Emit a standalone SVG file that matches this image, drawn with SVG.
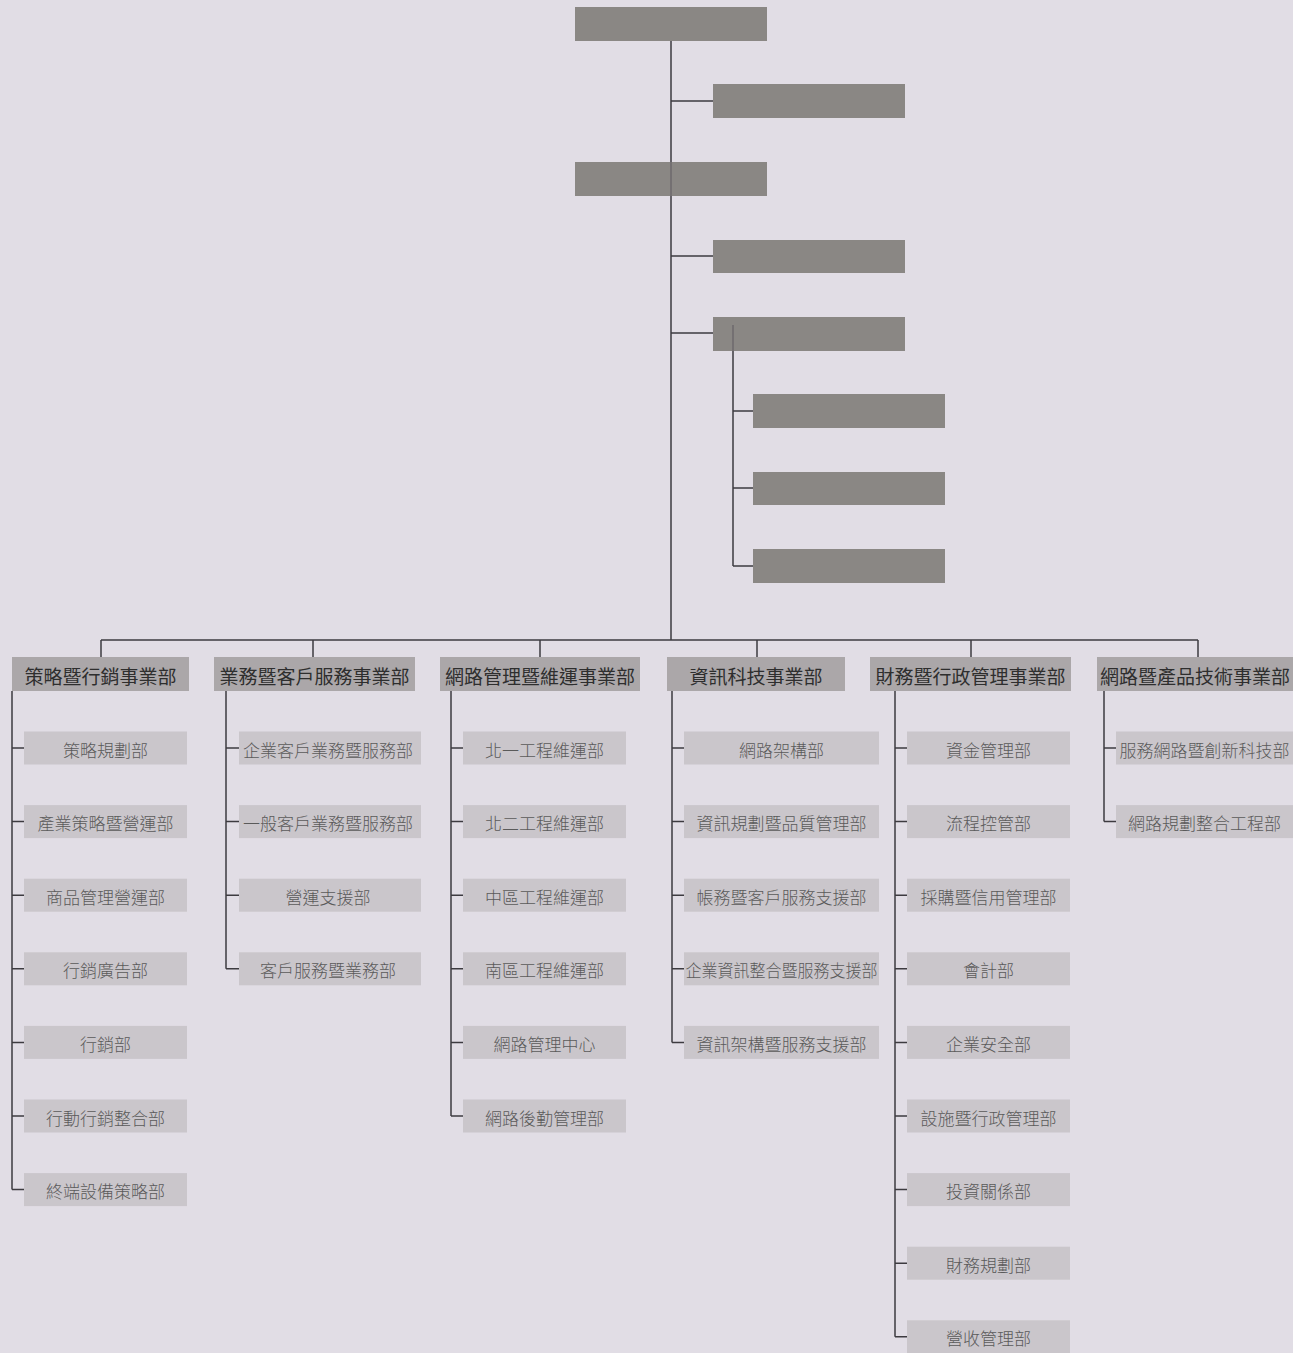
<svg xmlns="http://www.w3.org/2000/svg" width="1293" height="1353" viewBox="0 0 1293 1353">
<style>
.bg{fill:#e1dde5}
.top{fill:#8a8784}
.hd{fill:#aba7a9}
.sb{fill:#cac6cb}
.ln{stroke:#3d3b40;stroke-width:1.5;fill:none}
.ln2{stroke:#6e6a6c;stroke-width:1.5;fill:none}
.ht{font-family:"Noto Sans CJK TC","Noto Sans CJK SC",sans-serif;font-size:19px;fill:#2e2e2e;text-anchor:middle;dominant-baseline:central}
.st{font-family:"Noto Sans CJK TC","Noto Sans CJK SC",sans-serif;font-size:17px;fill:#5a5a5a;text-anchor:middle;dominant-baseline:central;font-weight:300}
</style>
<rect class="bg" x="0" y="0" width="1293" height="1353"/>
<g id="top-nodes">
<rect id="t1" class="top" x="575" y="7" width="192" height="34"/>
<rect id="t2" class="top" x="713" y="84" width="192" height="34"/>
<rect id="t3" class="top" x="575" y="162" width="192" height="34"/>
<rect id="t4" class="top" x="713" y="240" width="192" height="33"/>
<rect id="t5" class="top" x="713" y="317" width="192" height="34"/>
<rect id="t6" class="top" x="753" y="394" width="192" height="34"/>
<rect id="t7" class="top" x="753" y="472" width="192" height="33"/>
<rect id="t8" class="top" x="753" y="549" width="192" height="34"/>
</g>
<g id="connectors">
<path class="ln" d="M671 41V162M671 196V640M671 101H713M671 256H713M671 333H713"/>
<path class="ln2" d="M671 162V196M733 325V351"/>
<path class="ln" d="M733 351V566M733 411H753M733 488H753M733 566H753"/>
<path class="ln" d="M101 640H1198M101 640V657M313 640V657M540 640V657M757 640V657M971 640V657M1198 640V657"/>
<path class="ln" d="M12 691V1189.6M12 748H24M12 821.6H24M12 895.2H24M12 968.8H24M12 1042.4H24M12 1116H24M12 1189.6H24"/>
<path class="ln" d="M226 691V968.8M226 748H239M226 821.6H239M226 895.2H239M226 968.8H239"/>
<path class="ln" d="M451 691V1116M451 748H463M451 821.6H463M451 895.2H463M451 968.8H463M451 1042.4H463M451 1116H463"/>
<path class="ln" d="M672 691V1042.4M672 748H684M672 821.6H684M672 895.2H684M672 968.8H684M672 1042.4H684"/>
<path class="ln" d="M895 691V1336.8M895 748H907M895 821.6H907M895 895.2H907M895 968.8H907M895 1042.4H907M895 1116H907M895 1189.6H907M895 1263.2H907M895 1336.8H907"/>
<path class="ln" d="M1104 691V821.6M1104 748H1116M1104 821.6H1116"/>
</g>
<g id="h1"><rect class="hd" x="12" y="657" width="177" height="34"/><text class="ht" x="100.5" y="675">策略暨行銷事業部</text></g>
<g id="h2"><rect class="hd" x="214" y="657" width="201" height="34"/><text class="ht" x="314.5" y="675">業務暨客戶服務事業部</text></g>
<g id="h3"><rect class="hd" x="440" y="657" width="200" height="34"/><text class="ht" x="540" y="675">網路管理暨維運事業部</text></g>
<g id="h4"><rect class="hd" x="667" y="657" width="178" height="34"/><text class="ht" x="756" y="675">資訊科技事業部</text></g>
<g id="h5"><rect class="hd" x="870" y="657" width="201" height="34"/><text class="ht" x="970.5" y="675">財務暨行政管理事業部</text></g>
<g id="h6"><rect class="hd" x="1097" y="657" width="196" height="34"/><text class="ht" x="1195" y="675">網路暨產品技術事業部</text></g>

<g id="c1-1"><rect class="sb" x="24" y="731.5" width="163" height="33"/><text class="st" x="105.5" y="749">策略規劃部</text></g>
<g id="c1-2"><rect class="sb" x="24" y="805.1" width="163" height="33"/><text class="st" x="105.5" y="822.6">產業策略暨營運部</text></g>
<g id="c1-3"><rect class="sb" x="24" y="878.7" width="163" height="33"/><text class="st" x="105.5" y="896.2">商品管理營運部</text></g>
<g id="c1-4"><rect class="sb" x="24" y="952.3" width="163" height="33"/><text class="st" x="105.5" y="969.8">行銷廣告部</text></g>
<g id="c1-5"><rect class="sb" x="24" y="1025.9" width="163" height="33"/><text class="st" x="105.5" y="1043.4">行銷部</text></g>
<g id="c1-6"><rect class="sb" x="24" y="1099.5" width="163" height="33"/><text class="st" x="105.5" y="1117">行動行銷整合部</text></g>
<g id="c1-7"><rect class="sb" x="24" y="1173.1" width="163" height="33"/><text class="st" x="105.5" y="1190.6">終端設備策略部</text></g>

<g id="c2-1"><rect class="sb" x="239" y="731.5" width="182" height="33"/><text class="st" x="328" y="749">企業客戶業務暨服務部</text></g>
<g id="c2-2"><rect class="sb" x="239" y="805.1" width="182" height="33"/><text class="st" x="328" y="822.6">一般客戶業務暨服務部</text></g>
<g id="c2-3"><rect class="sb" x="239" y="878.7" width="182" height="33"/><text class="st" x="328" y="896.2">營運支援部</text></g>
<g id="c2-4"><rect class="sb" x="239" y="952.3" width="182" height="33"/><text class="st" x="328" y="969.8">客戶服務暨業務部</text></g>

<g id="c3-1"><rect class="sb" x="463" y="731.5" width="163" height="33"/><text class="st" x="544.5" y="749">北一工程維運部</text></g>
<g id="c3-2"><rect class="sb" x="463" y="805.1" width="163" height="33"/><text class="st" x="544.5" y="822.6">北二工程維運部</text></g>
<g id="c3-3"><rect class="sb" x="463" y="878.7" width="163" height="33"/><text class="st" x="544.5" y="896.2">中區工程維運部</text></g>
<g id="c3-4"><rect class="sb" x="463" y="952.3" width="163" height="33"/><text class="st" x="544.5" y="969.8">南區工程維運部</text></g>
<g id="c3-5"><rect class="sb" x="463" y="1025.9" width="163" height="33"/><text class="st" x="544.5" y="1043.4">網路管理中心</text></g>
<g id="c3-6"><rect class="sb" x="463" y="1099.5" width="163" height="33"/><text class="st" x="544.5" y="1117">網路後勤管理部</text></g>

<g id="c4-1"><rect class="sb" x="684" y="731.5" width="195" height="33"/><text class="st" x="781.5" y="749">網路架構部</text></g>
<g id="c4-2"><rect class="sb" x="684" y="805.1" width="195" height="33"/><text class="st" x="781.5" y="822.6">資訊規劃暨品質管理部</text></g>
<g id="c4-3"><rect class="sb" x="684" y="878.7" width="195" height="33"/><text class="st" x="781.5" y="896.2">帳務暨客戶服務支援部</text></g>
<g id="c4-4"><rect class="sb" x="684" y="952.3" width="195" height="33"/><text class="st" x="781.5" y="969.8" textLength="192" lengthAdjust="spacingAndGlyphs">企業資訊整合暨服務支援部</text></g>
<g id="c4-5"><rect class="sb" x="684" y="1025.9" width="195" height="33"/><text class="st" x="781.5" y="1043.4">資訊架構暨服務支援部</text></g>

<g id="c5-1"><rect class="sb" x="907" y="731.5" width="163" height="33"/><text class="st" x="988.5" y="749">資金管理部</text></g>
<g id="c5-2"><rect class="sb" x="907" y="805.1" width="163" height="33"/><text class="st" x="988.5" y="822.6">流程控管部</text></g>
<g id="c5-3"><rect class="sb" x="907" y="878.7" width="163" height="33"/><text class="st" x="988.5" y="896.2">採購暨信用管理部</text></g>
<g id="c5-4"><rect class="sb" x="907" y="952.3" width="163" height="33"/><text class="st" x="988.5" y="969.8">會計部</text></g>
<g id="c5-5"><rect class="sb" x="907" y="1025.9" width="163" height="33"/><text class="st" x="988.5" y="1043.4">企業安全部</text></g>
<g id="c5-6"><rect class="sb" x="907" y="1099.5" width="163" height="33"/><text class="st" x="988.5" y="1117">設施暨行政管理部</text></g>
<g id="c5-7"><rect class="sb" x="907" y="1173.1" width="163" height="33"/><text class="st" x="988.5" y="1190.6">投資關係部</text></g>
<g id="c5-8"><rect class="sb" x="907" y="1246.7" width="163" height="33"/><text class="st" x="988.5" y="1264.2">財務規劃部</text></g>
<g id="c5-9"><rect class="sb" x="907" y="1320.3" width="163" height="33"/><text class="st" x="988.5" y="1337.8">營收管理部</text></g>

<g id="c6-1"><rect class="sb" x="1116" y="731.5" width="177" height="33"/><text class="st" x="1204.5" y="749">服務網路暨創新科技部</text></g>
<g id="c6-2"><rect class="sb" x="1116" y="805.1" width="177" height="33"/><text class="st" x="1204.5" y="822.6">網路規劃整合工程部</text></g>
</svg>
